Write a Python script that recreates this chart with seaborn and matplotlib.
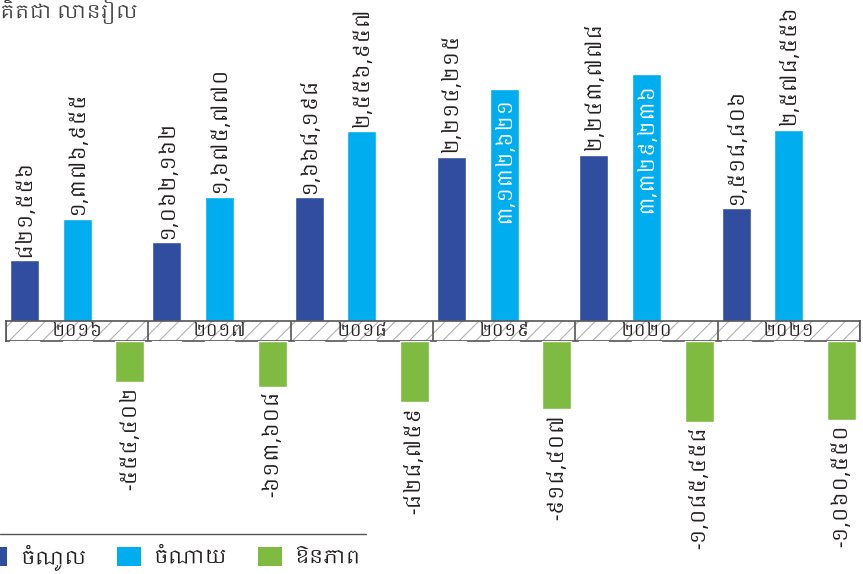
import pandas as pd
import matplotlib
matplotlib.use("Agg")
import matplotlib.pyplot as plt
from matplotlib import font_manager
from matplotlib.lines import Line2D
from matplotlib.patches import Patch
import seaborn as sns

# values in million riels
years = ["២០១៦", "២០១៧", "២០១៨", "២០១៩", "២០២០", "២០២១"]
revenue = [821556, 1062162, 1668198, 2214215, 2243778, 1518806]
expense = [1376955, 1675770, 2556957, 3132621, 3329236, 2578556]
deficit = [-554402, -613608, -828759, -918407, -1085458, -1060550]
series_names = ["ចំណូល", "ចំណាយ", "ឱនភាព"]
unit_label = "គិតជា លានរៀល"

colors = ["#304d9f", "#00adee", "#7fbb41"]
text_color = "#231f20"

sns.set_theme(style="white")
khmer = sorted({f.name for f in font_manager.fontManager.ttflist if "khmer" in f.name.lower()})
plt.rcParams["font.family"] = khmer + ["DejaVu Sans"]
plt.rcParams["hatch.color"] = "#b0b0b0"
plt.rcParams["hatch.linewidth"] = 0.8

khmer_digits = str.maketrans("0123456789", "០១២៣៤៥៦៧៨៩")


def fmt(v):
    return f"{v:,}".translate(khmer_digits)


df = pd.DataFrame({
    "year": years * 3,
    "value": revenue + expense + deficit,
    "series": [series_names[0]] * 6 + [series_names[1]] * 6 + [series_names[2]] * 6,
})

px = 13480  # value per pixel
W, H = 863, 574
fig = plt.figure(figsize=(W / 100, H / 100), dpi=100)
left, width = 6 / W, 854 / W
ax_top = fig.add_axes([left, 1 - 321 / H, width, 321 / H])
ax_band = fig.add_axes([left, 1 - 341 / H, width, 20 / H])
ax_bot = fig.add_axes([left, 1 - 541 / H, width, 200 / H])

for ax in (ax_top, ax_bot):
    sns.barplot(data=df, x="year", y="value", hue="series", palette=colors,
                width=1.11, gap=0.45, saturation=1, legend=False, ax=ax)
    ax.set_xlim(-0.5, 5.5)
    ax.set_axis_off()

ax_top.set_ylim(0, 321 * px)
ax_bot.set_ylim(-200 * px, 0)

lab = 14.5
# value labels
for i, cont in enumerate(ax_top.containers[:2]):
    for bar, v in zip(cont, [revenue, expense][i]):
        xc = bar.get_x() + bar.get_width() / 2
        if v > 3_000_000:
            ax_top.annotate(fmt(v), (xc, v), xytext=(0, -6), textcoords="offset points",
                            rotation=90, ha="center", va="top", fontsize=lab, color="white")
        else:
            ax_top.annotate(fmt(v), (xc, v), xytext=(0, 2.5), textcoords="offset points",
                            rotation=90, ha="center", va="bottom", fontsize=lab, color=text_color)
for bar, v in zip(ax_bot.containers[2], deficit):
    xc = bar.get_x() + bar.get_width() / 2
    ax_bot.annotate("-" + fmt(-v), (xc, v), xytext=(0, -3), textcoords="offset points",
                    rotation=90, ha="center", va="top", fontsize=lab, color=text_color,
                    annotation_clip=False)

# hatched year band
ax_band.set_xlim(-0.5, 5.5)
ax_band.set_ylim(0, 1)
ax_band.axvspan(-0.5, 5.5, facecolor="white", edgecolor="#b0b0b0", hatch="//", lw=0)
for b in range(7):
    ax_band.axvline(b - 0.5, color="#555555", lw=1.2)
for i, y in enumerate(years):
    ax_band.text(i, 0.45, y, ha="center", va="center", fontsize=12, color=text_color)
ax_band.set_xticks([])
ax_band.set_yticks([])
for s in ax_band.spines.values():
    s.set_color("#555555")
    s.set_linewidth(1.2)

fig.text(0.0, 1 - 12 / H, unit_label, ha="left", va="center", fontsize=14, color="#444444")

# legend
fig.add_artist(Line2D([0, 366 / W], [1 - 534 / H, 1 - 534 / H], color="#555555", lw=1))
handles = [Patch(facecolor=c, edgecolor="none") for c in colors]
fig.legend(handles, series_names, loc="center left", bbox_to_anchor=(-16 / W, 1 - 557 / H),
           ncol=3, frameon=False, fontsize=14, handlelength=1.2, handleheight=1.15,
           handletextpad=0.65, columnspacing=1.6, borderpad=0, borderaxespad=0,
           labelcolor=text_color)

fig.savefig("out.png", dpi=100)
